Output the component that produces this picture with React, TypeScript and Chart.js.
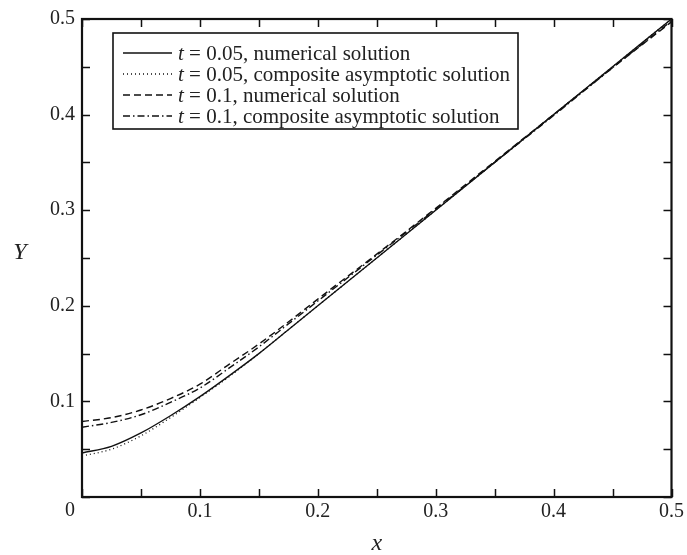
import React, { useEffect, useRef } from "react";
import { Chart, registerables } from "chart.js";

Chart.register(...registerables);

const xValues = [0, 0.025, 0.05, 0.075, 0.1, 0.125, 0.15, 0.175, 0.2, 0.25, 0.3, 0.35, 0.4, 0.45, 0.5];
const numericalT005 = [0.046, 0.053, 0.067, 0.085, 0.105, 0.127, 0.15, 0.175, 0.2, 0.25, 0.3, 0.35, 0.4, 0.45, 0.5];
const compositeT005 = [0.043, 0.05, 0.064, 0.083, 0.104, 0.126, 0.15, 0.175, 0.2, 0.25, 0.3, 0.35, 0.4, 0.45, 0.5];
const numericalT01 = [0.079, 0.083, 0.091, 0.103, 0.118, 0.139, 0.16, 0.183, 0.207, 0.254, 0.302, 0.351, 0.4, 0.449, 0.497];
const compositeT01 = [0.073, 0.078, 0.086, 0.099, 0.114, 0.135, 0.157, 0.181, 0.205, 0.253, 0.301, 0.35, 0.399, 0.449, 0.498];

const seriesLabels = [
  ["t", " = 0.05, numerical solution"],
  ["t", " = 0.05, composite asymptotic solution"],
  ["t", " = 0.1, numerical solution"],
  ["t", " = 0.1, composite asymptotic solution"],
];
const dashPatterns: number[][] = [[], [1, 3], [7, 4], [7, 3, 1.5, 3]];
const tickStep = 0.05;
const axisMin = 0;
const axisMax = 0.5;

const FONT = "'Liberation Serif', 'Times New Roman', serif";
const INK = "#111";

const toPoints = (ys: number[]) => xValues.map((x, i) => ({ x, y: ys[i] }));

const framePlugin = {
  id: "framePlugin",
  afterDraw(chart: any) {
    const { ctx, chartArea, scales } = chart;
    const { left, right, top, bottom } = chartArea;
    ctx.save();
    ctx.strokeStyle = INK;
    ctx.lineWidth = 1.5;
    const tl = 8;
    scales.x.ticks.forEach((t: any) => {
      const px = Math.round(scales.x.getPixelForValue(t.value)) + 0.5;
      ctx.beginPath();
      ctx.moveTo(px, bottom);
      ctx.lineTo(px, bottom - tl);
      ctx.moveTo(px, top);
      ctx.lineTo(px, top + tl);
      ctx.stroke();
    });
    scales.y.ticks.forEach((t: any) => {
      const py = Math.round(scales.y.getPixelForValue(t.value)) + 0.5;
      ctx.beginPath();
      ctx.moveTo(left, py);
      ctx.lineTo(left + tl, py);
      ctx.moveTo(right, py);
      ctx.lineTo(right - tl, py);
      ctx.stroke();
    });
    ctx.lineWidth = 2.2;
    ctx.strokeRect(left, top, right - left, bottom - top);

    ctx.fillStyle = "#222";
    ctx.font = `20px ${FONT}`;
    ctx.textAlign = "center";
    ctx.textBaseline = "middle";
    ctx.fillText("0", left - 12, bottom + 14);

    ctx.font = `italic 24px ${FONT}`;
    ctx.fillText("x", (left + right) / 2, 544);
    ctx.fillText("Y", 20, 253);

    const bx = 113, by = 33, bw = 405, bh = 96;
    ctx.fillStyle = "#fff";
    ctx.fillRect(bx, by, bw, bh);
    ctx.lineWidth = 1.6;
    ctx.strokeStyle = INK;
    ctx.strokeRect(bx, by, bw, bh);
    seriesLabels.forEach((lab, i) => {
      const cy = 53 + i * 21;
      ctx.save();
      ctx.lineWidth = i === 1 ? 1.3 : 1.5;
      ctx.setLineDash(dashPatterns[i]);
      ctx.beginPath();
      ctx.moveTo(123, cy);
      ctx.lineTo(172, cy);
      ctx.stroke();
      ctx.restore();
      ctx.fillStyle = "#222";
      ctx.textAlign = "left";
      ctx.textBaseline = "alphabetic";
      ctx.font = `italic 21px ${FONT}`;
      const base = cy + 7;
      ctx.fillText(lab[0], 178, base);
      const w = ctx.measureText(lab[0]).width;
      ctx.font = `21px ${FONT}`;
      ctx.fillText(lab[1], 178 + w, base);
    });
    ctx.restore();
  },
};

export default function App() {
  const canvasRef = useRef<HTMLCanvasElement | null>(null);

  useEffect(() => {
    if (!canvasRef.current) return;
    const series = [numericalT005, compositeT005, numericalT01, compositeT01];
    const tickLabel = (v: any) => {
      const n = Math.round(Number(v) * 100);
      if (n === 0 || n % 10 !== 0) return "";
      return (n / 100).toFixed(1);
    };
    const chart = new Chart(canvasRef.current, {
      type: "line",
      data: {
        datasets: series.map((ys, i) => ({
          label: seriesLabels[i].join(""),
          data: toPoints(ys),
          borderColor: INK,
          borderWidth: i === 1 ? 1.3 : 1.4,
          borderDash: dashPatterns[i],
          pointRadius: 0,
          fill: false,
          cubicInterpolationMode: "monotone" as const,
        })),
      },
      options: {
        animation: false,
        responsive: false,
        maintainAspectRatio: false,
        layout: { padding: { top: 14, right: 15, left: 0, bottom: 0 } },
        plugins: { legend: { display: false }, tooltip: { enabled: false } },
        scales: {
          x: {
            type: "linear",
            min: axisMin,
            max: axisMax,
            afterFit: (s: any) => {
              s.height = 58;
            },
            grid: { display: false, drawTicks: false },
            border: { display: false },
            ticks: {
              stepSize: tickStep,
              padding: 3,
              maxRotation: 0,
              autoSkip: false,
              color: "#222",
              font: { family: FONT, size: 20 },
              callback: tickLabel,
            },
          },
          y: {
            type: "linear",
            min: axisMin,
            max: axisMax,
            afterFit: (s: any) => {
              s.width = 82;
            },
            grid: { display: false, drawTicks: false },
            border: { display: false },
            ticks: {
              stepSize: tickStep,
              padding: 7,
              autoSkip: false,
              color: "#222",
              font: { family: FONT, size: 20 },
              callback: tickLabel,
            },
          },
        },
      },
      plugins: [framePlugin],
    });
    return () => chart.destroy();
  }, []);

  return (
    <div style={{ position: "absolute", left: 0, top: 0, width: 687, height: 555, background: "#fff" }}>
      <canvas ref={canvasRef} width={687} height={555} style={{ display: "block" }} />
    </div>
  );
}
